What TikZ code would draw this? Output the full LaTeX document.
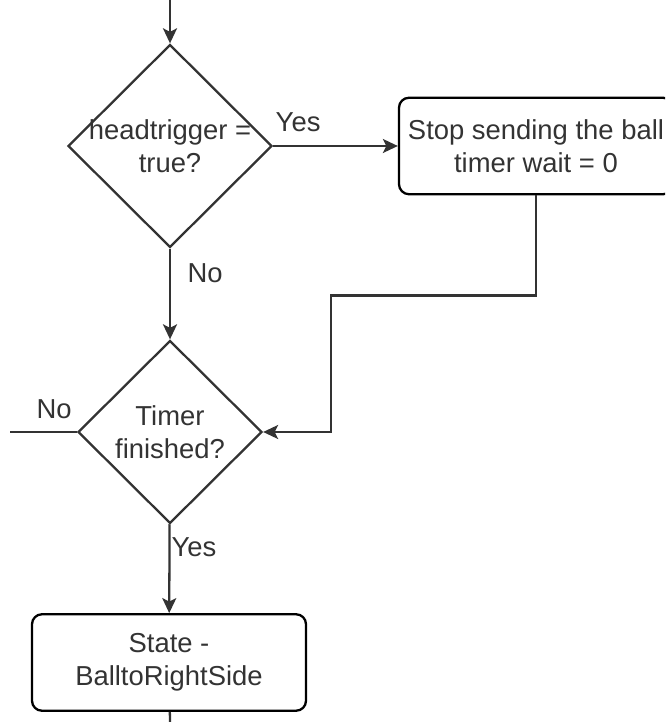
\documentclass[tikz,border=0pt]{standalone}
\usepackage{fontspec}
\setmainfont{Liberation Sans}
\usetikzlibrary{shapes.geometric, arrows.meta, positioning}
\definecolor{ink}{RGB}{51,51,51}
\tikzset{%
  txt/.style={font=\fontsize{15.6}{18.8}\selectfont, text=ink},% node text
  decision/.style={draw=ink, shape=diamond, line width=1.3pt, inner sep=0pt,
    minimum width=4.08cm, minimum height=4.06cm},% question diamond
  process/.style={draw=black, rectangle, rounded corners=0.2cm, line width=1.3pt,
    txt, align=center, minimum width=5.48cm, minimum height=1.93cm},% action box
  link/.style={draw=ink, line width=1.3pt},% plain line
  flow/.style={link, -{Stealth[length=0.3cm, width=0.28cm, inset=0.07cm]}},% arrow
  answer/.style={txt, inner sep=0pt}% yes / no at an edge
}

\begin{document}
\begin{tikzpicture}
\useasboundingbox (0, 0) rectangle (13.3, 14.44);
\clip (0, 0) rectangle (13.3, 14.44);

\node[decision, label={[txt, align=center]center:headtrigger =\\true?}] (head) at (3.4, 11.52) {};
\node[process] (stop) at (10.72, 11.52) {Stop sending the ball\\timer wait = 0};
\node[decision, minimum width=3.68cm, minimum height=3.66cm,
  label={[txt, align=center]center:Timer\\finished?}] (timer) at (3.4, 5.8) {};
\node[process] (state) at (3.38, 1.19) {State -\\BalltoRightSide};

\coordinate (in) at (3.4, 14.44);
\coordinate (out) at (3.4, 0);
\coordinate (loose) at (0.2, 5.8);

\draw (in) edge[flow] (head);
\draw (head) edge[flow] node[answer, pos=0.2, above=0.27cm] {Yes} (stop);
\draw (head) edge[flow] node[answer, pos=0.27, right=0.33cm] {No} (timer);
\draw (timer) edge[link] node[answer, pos=0.34, above=0.25cm] {No} (loose);
\draw (timer) edge[flow] node[answer, pos=0.26, right=0.02cm] {Yes} (state);
\draw (state) edge[link] (out);

% back into the timer check
\draw[flow] (stop.south) -- ++(0, -2) -| ([xshift=1.36cm]timer.east) -- (timer.east);

\end{tikzpicture}
\end{document}
